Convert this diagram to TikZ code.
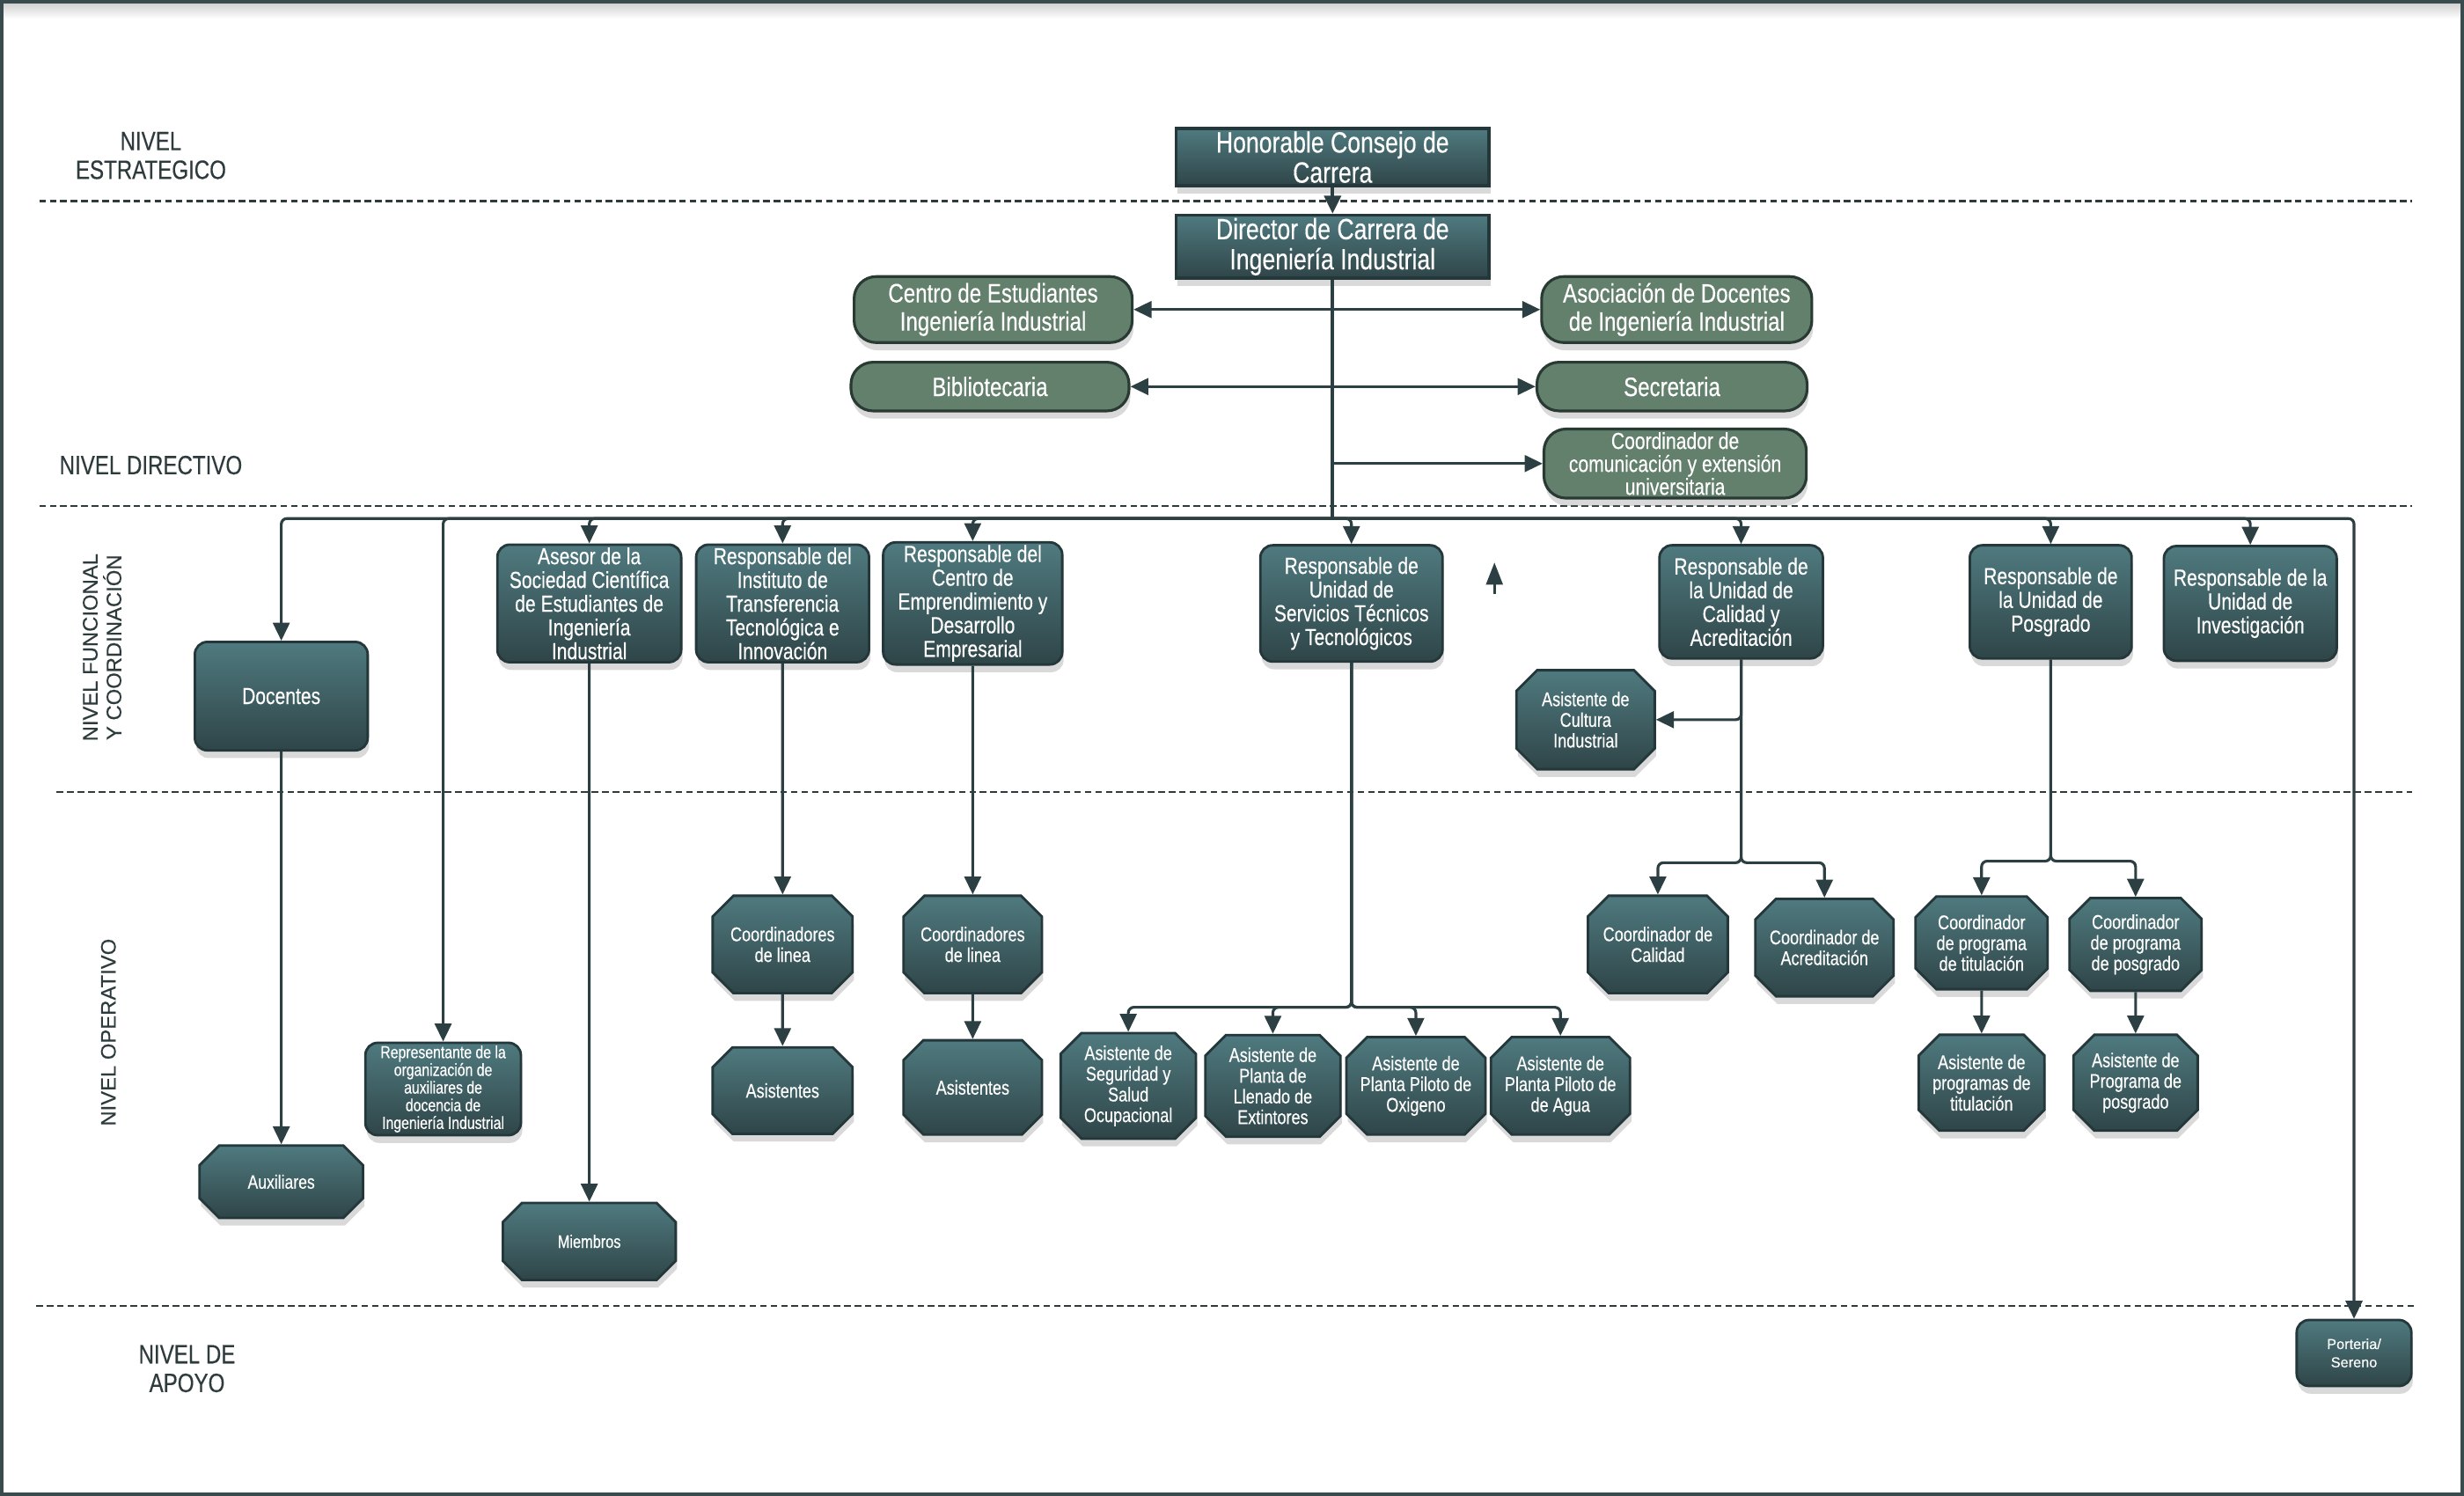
\documentclass[tikz,border=0pt]{standalone}
\usepackage{fontspec}
\setmainfont{Liberation Sans}[FakeStretch=0.8, FakeBold=0.35]
\newfontfamily\widesans{Liberation Sans}[FakeBold=0.3]
\usetikzlibrary{arrows.meta,calc,shapes.misc,shadows}
\definecolor{tealtop}{HTML}{4F7A7F}
\definecolor{tealbottom}{HTML}{2F4548}
\definecolor{tealedge}{HTML}{24373A}
\definecolor{sagefill}{HTML}{62806B}
\definecolor{sageedge}{HTML}{293A35}
\definecolor{inkline}{HTML}{2C3F43}
\definecolor{labelgray}{HTML}{2E3B3D}
\definecolor{frameedge}{HTML}{3A4B4D}
\tikzset{
  boxshadow/.style={drop shadow={shadow xshift=0.5pt, shadow yshift=-2.8pt, opacity=0.3}},
  headnode/.style={rectangle, draw=tealedge, line width=1.1pt, top color=tealtop, bottom color=tealbottom, text=white, align=center, inner sep=1pt, font=\fontsize{10.6}{10.9}\selectfont, boxshadow},
  greennode/.style={rectangle, rounded corners=8pt, draw=sageedge, line width=1pt, fill=sagefill, text=white, align=center, inner sep=1pt, font=\fontsize{9.6}{10.2}\selectfont, boxshadow},
  rolenode/.style={rectangle, rounded corners=4.5pt, draw=tealedge, line width=0.9pt, top color=tealtop, bottom color=tealbottom, text=white, align=center, inner sep=1pt, font=\fontsize{8.4}{8.6}\selectfont, boxshadow},
  octnode/.style={chamfered rectangle, chamfered rectangle xsep=4pt, draw=tealedge, line width=0.9pt, top color=tealtop, bottom color=tealbottom, text=white, align=center, inner sep=1pt, font=\fontsize{7.2}{7.5}\selectfont, boxshadow},
  levellabel/.style={text=labelgray, align=center, font=\fontsize{9.6}{10.4}\selectfont},
  sidelabel/.style={text=labelgray, align=center, rotate=90, font=\widesans\fontsize{7.6}{8.6}\selectfont},
  guide/.style={labelgray, dash pattern=on 2.4pt off 1.4pt, line width=0.8pt},
  conn/.style={inkline, line width=1pt, rounded corners=2pt, -{Triangle[width=6pt,length=6.5pt]}},
  trunk/.style={inkline, line width=1.3pt}
}
\begin{document}
\begin{tikzpicture}[x=0.02cm, y=-0.02cm]
  \useasboundingbox (0,0) rectangle (1568,952);
  \shade[top color=black!22, bottom color=white] (0,0) rectangle (1568,12);
  \draw[frameedge, line width=1.2pt] (1,1) rectangle (1567,951);

  \draw[guide] (25,128) -- (1535,128);
  \draw[guide] (25,322) -- (1535,322);
  \draw[guide] (36,504) -- (1535,504);
  \draw[guide] (23,831) -- (1537,831);

  \node[levellabel] (lvlest) at (96,99) {NIVEL\\ESTRATEGICO};
  \node[levellabel] (lvldir) at (96,296) {NIVEL DIRECTIVO};
  \node[sidelabel] (lvlfun) at (65,412) {NIVEL FUNCIONAL\\Y COORDINACIÓN};
  \node[sidelabel] (lvlope) at (69,657) {NIVEL OPERATIVO};
  \node[levellabel] (lvlapo) at (119,871) {NIVEL DE\\APOYO};

  \node[headnode, minimum width=3.98cm, minimum height=0.72cm] (honorable) at (848,100) {Honorable Consejo de\\Carrera};
  \node[headnode, minimum width=3.98cm, minimum height=0.72cm] (director) at (848,157) {Director de Carrera de\\Ingeniería Industrial};

  \node[greennode, minimum width=3.54cm, minimum height=0.84cm] (centroest) at (632,197) {Centro de Estudiantes\\Ingeniería Industrial};
  \node[greennode, minimum width=3.44cm, minimum height=0.84cm] (asocdoc) at (1067,197) {Asociación de Docentes\\de Ingeniería Industrial};
  \node[greennode, minimum width=3.54cm, minimum height=0.62cm] (biblio) at (630,246) {Bibliotecaria};
  \node[greennode, minimum width=3.44cm, minimum height=0.62cm] (secre) at (1064,246) {Secretaria};
  \node[greennode, minimum width=3.34cm, minimum height=0.88cm, font=\fontsize{8.4}{8.3}\selectfont] (coordcom) at (1066,295) {Coordinador de\\comunicación y extensión\\universitaria};

  \node[rolenode, minimum width=2.2cm, minimum height=1.38cm] (docentes) at (179,443) {Docentes};
  \node[rolenode, minimum width=1.98cm, minimum height=1.16cm, font=\fontsize{6.3}{6.4}\selectfont] (repaux) at (282,693) {Representante de la\\organización de\\auxiliares de\\docencia de\\Ingeniería Industrial};
  \node[rolenode, minimum width=2.34cm, minimum height=1.48cm] (asesor) at (375,384) {Asesor de la\\Sociedad Científica\\de Estudiantes de\\Ingeniería\\Industrial};
  \node[rolenode, minimum width=2.2cm, minimum height=1.48cm] (instituto) at (498,384) {Responsable del\\Instituto de\\Transferencia\\Tecnológica e\\Innovación};
  \node[rolenode, minimum width=2.28cm, minimum height=1.48cm] (emprende) at (619,384) {Responsable del\\Centro de\\Emprendimiento y\\Desarrollo\\Empresarial};
  \node[rolenode, minimum width=2.32cm, minimum height=1.48cm] (servicios) at (860,384) {Responsable de\\Unidad de\\Servicios Técnicos\\y Tecnológicos};
  \node[rolenode, minimum width=2.08cm, minimum height=1.44cm] (calidad) at (1108,383) {Responsable de\\la Unidad de\\Calidad y\\Acreditación};
  \node[rolenode, minimum width=2.06cm, minimum height=1.44cm] (posgrado) at (1305,383) {Responsable de\\la Unidad de\\Posgrado};
  \node[rolenode, minimum width=2.2cm, minimum height=1.46cm] (investiga) at (1432,384) {Responsable de la\\Unidad de\\Investigación};
  \node[rolenode, minimum width=1.46cm, minimum height=0.84cm, font=\widesans\fontsize{5.2}{6.6}\selectfont] (porteria) at (1498,861) {Porteria/\\Sereno};

  \node[octnode, minimum width=2.08cm, minimum height=0.92cm, font=\fontsize{7}{7.3}\selectfont] (auxiliares) at (179,752) {Auxiliares};
  \node[octnode, minimum width=2.2cm, minimum height=0.98cm, font=\fontsize{6.5}{6.8}\selectfont] (miembros) at (375,790) {Miembros};
  \node[octnode, minimum width=1.78cm, minimum height=1.24cm] (coordlin1) at (498,601) {Coordinadores\\de linea};
  \node[octnode, minimum width=1.78cm, minimum height=1.1cm] (asist1) at (498,694) {Asistentes};
  \node[octnode, minimum width=1.76cm, minimum height=1.24cm] (coordlin2) at (619,601) {Coordinadores\\de linea};
  \node[octnode, minimum width=1.76cm, minimum height=1.2cm] (asist2) at (619,692) {Asistentes};
  \node[octnode, minimum width=1.72cm, minimum height=1.24cm] (asseg) at (718,691) {Asistente de\\Seguridad y\\Salud\\Ocupacional};
  \node[octnode, minimum width=1.72cm, minimum height=1.24cm] (asllen) at (810,691) {Asistente de\\Planta de\\Llenado de\\Extintores};
  \node[octnode, minimum width=1.74cm, minimum height=1.24cm] (asoxi) at (901,691) {Asistente de\\Planta Piloto de\\Oxigeno};
  \node[octnode, minimum width=1.72cm, minimum height=1.24cm] (asagua) at (993,691) {Asistente de\\Planta Piloto de\\de Agua};
  \node[octnode, minimum width=1.76cm, minimum height=1.26cm] (cultura) at (1009,458) {Asistente de\\Cultura\\Industrial};
  \node[octnode, minimum width=1.78cm, minimum height=1.24cm] (coordcal) at (1055,601) {Coordinador de\\Calidad};
  \node[octnode, minimum width=1.76cm, minimum height=1.24cm] (coordacr) at (1161,603) {Coordinador de\\Acreditación};
  \node[octnode, minimum width=1.68cm, minimum height=1.18cm] (coordtit) at (1261,600) {Coordinador\\de programa\\de titulación};
  \node[octnode, minimum width=1.68cm, minimum height=1.18cm] (coordpos) at (1359,601) {Coordinador\\de programa\\de posgrado};
  \node[octnode, minimum width=1.6cm, minimum height=1.22cm] (asistit) at (1261,689) {Asistente de\\programas de\\titulación};
  \node[octnode, minimum width=1.58cm, minimum height=1.22cm] (asispos) at (1359,689) {Asistente de\\Programa de\\posgrado};

  \coordinate (bus) at (848,330);
  \coordinate (servsplit) at (860,641);
  \coordinate (calsplit) at (1108,549);
  \coordinate (possplit) at (1305,548);
  \coordinate (strayfoot) at (951,378);

  \draw[conn, line width=1.3pt] (honorable) -- (director);
  \draw[trunk] (director.south) -- (bus);
  \draw[conn] (director.south |- centroest.east) -- (centroest.east);
  \draw[conn] (director.south |- asocdoc.west) -- (asocdoc.west);
  \draw[conn] (director.south |- biblio.east) -- (biblio.east);
  \draw[conn] (director.south |- secre.west) -- (secre.west);
  \draw[conn] (director.south |- coordcom.west) -- (coordcom.west);
  \foreach \kid in {docentes,repaux,asesor,instituto,emprende,servicios,calidad,posgrado,investiga,porteria}
    \draw[conn] (bus) -| (\kid.north);

  \draw[conn] (docentes) -- (auxiliares);
  \draw[conn] (asesor) -- (miembros);
  \draw[conn] (instituto) -- (coordlin1);
  \draw[conn] (coordlin1) -- (asist1);
  \draw[conn] (emprende) -- (coordlin2);
  \draw[conn] (coordlin2) -- (asist2);
  \foreach \kid in {asseg,asllen,asoxi,asagua}
    \draw[conn] (servicios.south) -- (servsplit) -| (\kid.north);
  \draw[conn] (calidad.south) |- (cultura.east);
  \foreach \kid in {coordcal,coordacr}
    \draw[conn] (calidad.south) -- (calsplit) -| (\kid.north);
  \foreach \kid in {coordtit,coordpos}
    \draw[conn] (posgrado.south) -- (possplit) -| (\kid.north);
  \draw[conn] (coordtit) -- (asistit);
  \draw[conn] (coordpos) -- (asispos);

  \draw[conn, line width=0.9pt, -{Triangle[width=6pt,length=8pt]}] (strayfoot) -- ++(0,-20);
\end{tikzpicture}
\end{document}
